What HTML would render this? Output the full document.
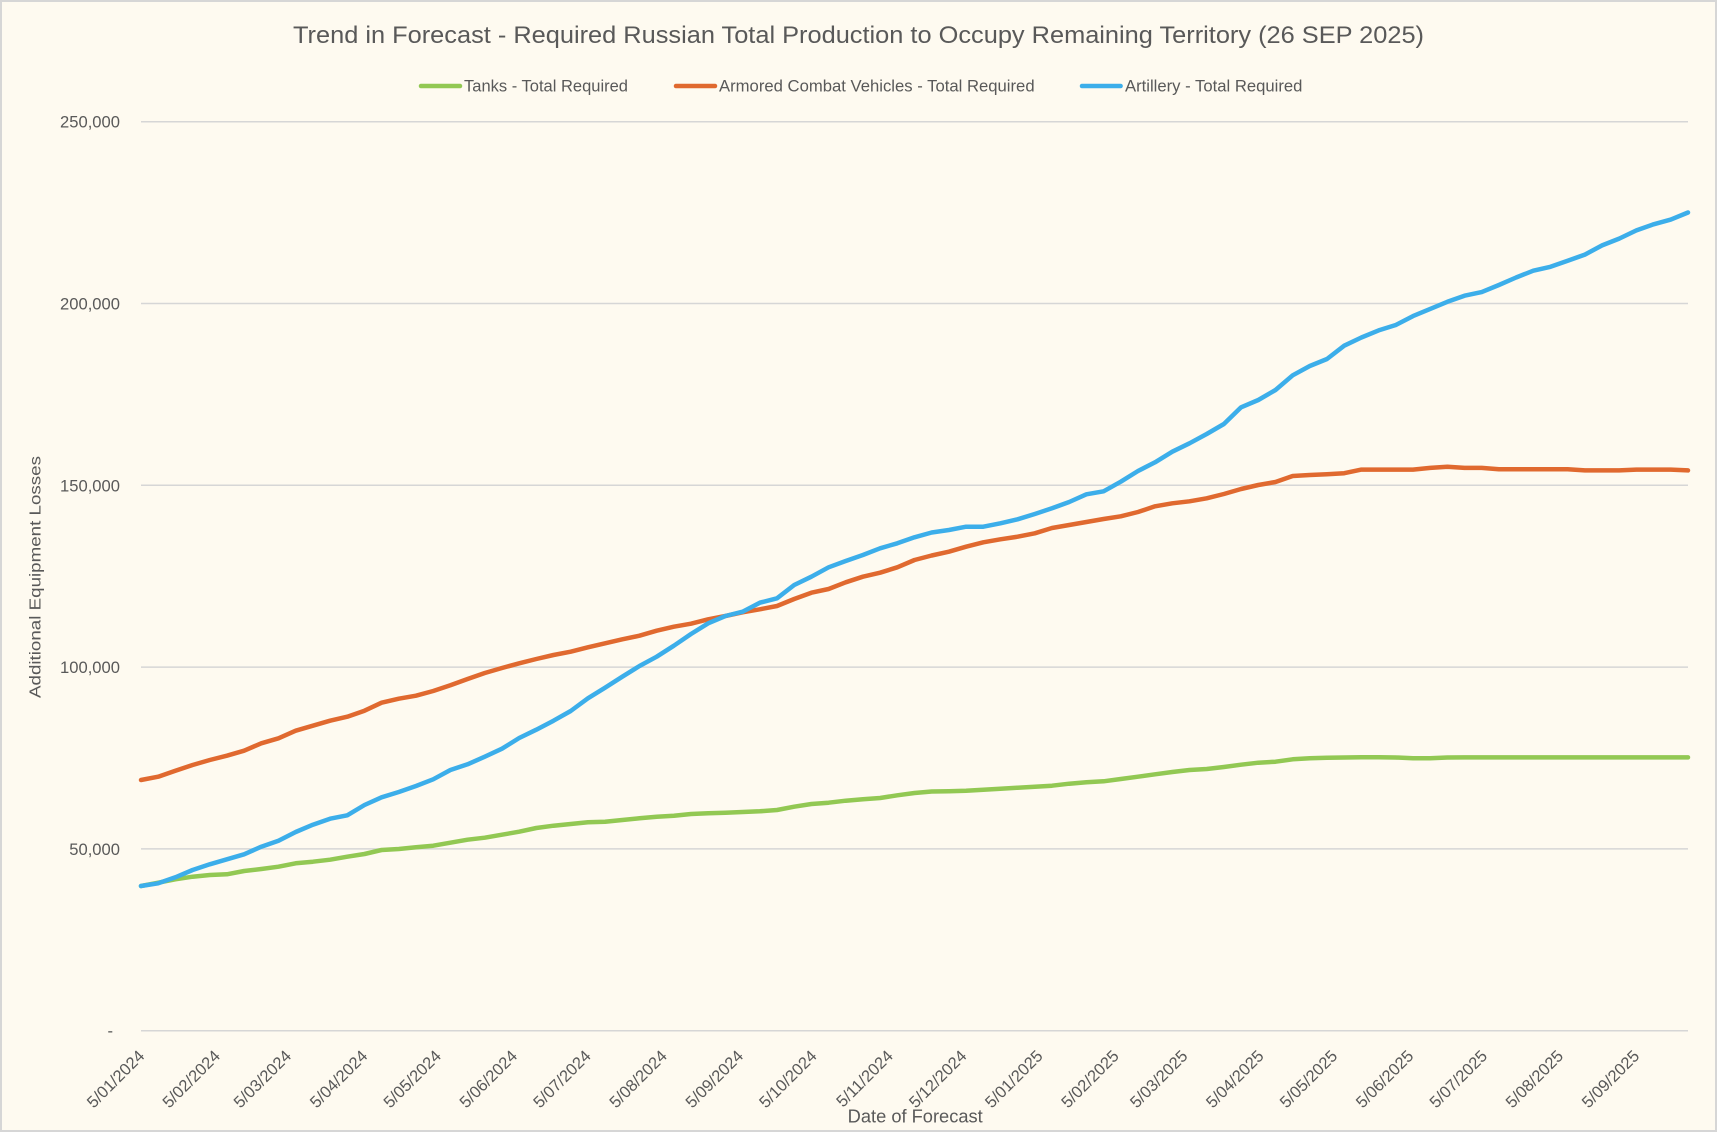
<!DOCTYPE html>
<html>
<head>
<meta charset="utf-8">
<style>
html,body{margin:0;padding:0;background:#fefaf0;}
svg{display:block;}
text{font-family:"Liberation Sans",Arial,sans-serif;fill:#595959;}
</style>
</head>
<body>
<svg width="1717" height="1132" viewBox="0 0 1717 1132" xmlns="http://www.w3.org/2000/svg">
<rect x="1" y="1" width="1715" height="1130" fill="#fefaf0" stroke="#d6d6d6" stroke-width="2"/>

<!-- Title -->
<text x="293" y="43" font-size="24" textLength="1131" lengthAdjust="spacingAndGlyphs">Trend in Forecast - Required Russian Total Production to Occupy Remaining Territory (26 SEP 2025)</text>

<!-- Legend -->
<line x1="421" y1="86" x2="460" y2="86" stroke="#92c853" stroke-width="4.5" stroke-linecap="round"/>
<text x="464" y="91.5" font-size="17" textLength="164" lengthAdjust="spacingAndGlyphs">Tanks - Total Required</text>
<line x1="676" y1="86" x2="715" y2="86" stroke="#e0692f" stroke-width="4.5" stroke-linecap="round"/>
<text x="719" y="91.5" font-size="17" textLength="315.6" lengthAdjust="spacingAndGlyphs">Armored Combat Vehicles - Total Required</text>
<line x1="1082" y1="86" x2="1120.6" y2="86" stroke="#3caeea" stroke-width="4.5" stroke-linecap="round"/>
<text x="1125" y="91.5" font-size="17" textLength="177.4" lengthAdjust="spacingAndGlyphs">Artillery - Total Required</text>

<!-- Gridlines -->
<g stroke="#d6d6d6" stroke-width="1.5">
<line x1="141" y1="121.7" x2="1688" y2="121.7"/>
<line x1="141" y1="303.5" x2="1688" y2="303.5"/>
<line x1="141" y1="485.3" x2="1688" y2="485.3"/>
<line x1="141" y1="667.1" x2="1688" y2="667.1"/>
<line x1="141" y1="848.9" x2="1688" y2="848.9"/>
<line x1="141" y1="1030.7" x2="1688" y2="1030.7"/>
</g>

<!-- Y tick labels -->
<g font-size="16.6" text-anchor="end">
<text x="120" y="127.7">250,000</text>
<text x="120" y="309.5">200,000</text>
<text x="120" y="491.3">150,000</text>
<text x="120" y="673.1">100,000</text>
<text x="120" y="854.9">50,000</text>
<text x="113" y="1036.5">-</text>
</g>

<!-- Y axis title -->
<text transform="translate(40.5,577) rotate(-90)" font-size="16" text-anchor="middle" textLength="242" lengthAdjust="spacingAndGlyphs">Additional Equipment Losses</text>

<!-- X tick labels -->
<g font-size="16.5" text-anchor="end">
<text transform="translate(145.5,1057) rotate(-45)">5/01/2024</text>
<text transform="translate(221.1,1057) rotate(-45)">5/02/2024</text>
<text transform="translate(292.3,1057) rotate(-45)">5/03/2024</text>
<text transform="translate(368.5,1057) rotate(-45)">5/04/2024</text>
<text transform="translate(442.1,1057) rotate(-45)">5/05/2024</text>
<text transform="translate(518.2,1057) rotate(-45)">5/06/2024</text>
<text transform="translate(591.9,1057) rotate(-45)">5/07/2024</text>
<text transform="translate(668,1057) rotate(-45)">5/08/2024</text>
<text transform="translate(744.2,1057) rotate(-45)">5/09/2024</text>
<text transform="translate(817.8,1057) rotate(-45)">5/10/2024</text>
<text transform="translate(894,1057) rotate(-45)">5/11/2024</text>
<text transform="translate(967.6,1057) rotate(-45)">5/12/2024</text>
<text transform="translate(1043.7,1057) rotate(-45)">5/01/2025</text>
<text transform="translate(1119.9,1057) rotate(-45)">5/02/2025</text>
<text transform="translate(1188.6,1057) rotate(-45)">5/03/2025</text>
<text transform="translate(1264.7,1057) rotate(-45)">5/04/2025</text>
<text transform="translate(1338.4,1057) rotate(-45)">5/05/2025</text>
<text transform="translate(1414.5,1057) rotate(-45)">5/06/2025</text>
<text transform="translate(1488.2,1057) rotate(-45)">5/07/2025</text>
<text transform="translate(1564.3,1057) rotate(-45)">5/08/2025</text>
<text transform="translate(1640.4,1057) rotate(-45)">5/09/2025</text>
</g>

<!-- X axis title -->
<text x="847.7" y="1122.3" font-size="18" textLength="135" lengthAdjust="spacingAndGlyphs">Date of Forecast</text>

<!-- Series -->
<g fill="none" stroke-width="4.5" stroke-linejoin="round" stroke-linecap="round">
<polyline stroke="#92c853" points="141,886 158.2,882.7 175.4,879.3 192.6,876.7 209.8,875 226.9,874.3 244.1,871 261.3,869 278.5,866.7 295.7,863.3 312.9,861.7 330.1,859.7 347.3,856.7 364.5,854 381.6,850 398.8,849 416,847.3 433.2,845.7 450.4,842.7 467.6,839.7 484.8,837.7 502,834.7 519.2,831.7 536.3,828 553.5,825.7 570.7,824 587.9,822.3 605.1,821.7 622.3,820 639.5,818.3 656.7,816.7 673.9,815.7 691,814 708.2,813.3 725.4,812.7 742.6,812 759.8,811.3 777,810 794.2,806.7 811.4,804 828.6,802.7 845.7,800.7 862.9,799.3 880.1,798 897.3,795.3 914.5,793 931.7,791.5 948.9,791.2 966.1,790.7 983.3,789.7 1000.4,788.7 1017.6,787.7 1034.8,786.7 1052,785.7 1069.2,783.7 1086.4,782.3 1103.6,781.3 1120.8,779 1138,776.7 1155.1,774.3 1172.3,772 1189.5,770 1206.7,769 1223.9,767 1241.1,764.7 1258.3,762.7 1275.5,761.7 1292.7,759.3 1309.8,758.3 1327,757.7 1344.2,757.5 1361.4,757.3 1378.6,757.2 1395.8,757.5 1413,758.3 1430.2,758.3 1447.4,757.5 1464.5,757.4 1481.7,757.4 1498.9,757.4 1516.1,757.4 1533.3,757.4 1550.5,757.4 1567.7,757.4 1584.9,757.4 1602.1,757.4 1619.2,757.4 1636.4,757.4 1653.6,757.4 1670.8,757.4 1688,757.4"/>
<polyline stroke="#e0692f" points="141,780 158.2,776.7 175.4,770.7 192.6,765 209.8,760 226.9,755.7 244.1,750.7 261.3,743.3 278.5,738.3 295.7,730.7 312.9,725.7 330.1,720.7 347.3,716.7 364.5,710.7 381.6,702.7 398.8,698.7 416,695.7 433.2,691 450.4,685.3 467.6,679 484.8,673 502,668 519.2,663.3 536.3,659 553.5,655 570.7,651.7 587.9,647.3 605.1,643.3 622.3,639.3 639.5,635.7 656.7,630.7 673.9,626.7 691,623.7 708.2,619.3 725.4,616 742.6,612.3 759.8,609.3 777,606 794.2,599 811.4,592.7 828.6,589 845.7,582.3 862.9,576.7 880.1,572.7 897.3,567.3 914.5,560 931.7,555.5 948.9,551.7 966.1,546.7 983.3,542.3 1000.4,539.3 1017.6,536.7 1034.8,533.3 1052,528 1069.2,525 1086.4,522 1103.6,519 1120.8,516.3 1138,512 1155.1,506.3 1172.3,503.3 1189.5,501.3 1206.7,498.3 1223.9,494 1241.1,489 1258.3,485 1275.5,482 1292.7,476 1309.8,475 1327,474.2 1344.2,473.2 1361.4,469.6 1378.6,469.6 1395.8,469.6 1413,469.6 1430.2,467.9 1447.4,466.8 1464.5,467.9 1481.7,467.9 1498.9,469.3 1516.1,469.3 1533.3,469.3 1550.5,469.3 1567.7,469.3 1584.9,470.4 1602.1,470.4 1619.2,470.4 1636.4,469.6 1653.6,469.6 1670.8,469.6 1688,470.4"/>
<polyline stroke="#3caeea" points="141,886 158.2,883.3 175.4,877.3 192.6,870 209.8,864.3 226.9,859.3 244.1,854.3 261.3,846.7 278.5,840.7 295.7,832 312.9,824.7 330.1,818.7 347.3,815.3 364.5,805 381.6,797.3 398.8,792 416,786 433.2,779.3 450.4,770 467.6,764.3 484.8,756.7 502,748.7 519.2,738 536.3,729.7 553.5,720.7 570.7,711 587.9,698.3 605.1,687.7 622.3,676.7 639.5,666 656.7,656.7 673.9,645.7 691,634 708.2,623.3 725.4,616 742.6,611.7 759.8,602.7 777,598.3 794.2,585 811.4,576.7 828.6,567.3 845.7,561 862.9,555 880.1,548.3 897.3,543.3 914.5,537.3 931.7,532.5 948.9,530 966.1,526.7 983.3,526.7 1000.4,523.3 1017.6,519.3 1034.8,514 1052,508.3 1069.2,502 1086.4,494.3 1103.6,491.3 1120.8,481.7 1138,471 1155.1,462.3 1172.3,451.7 1189.5,443.3 1206.7,434 1223.9,424 1241.1,407.3 1258.3,400 1275.5,390 1292.7,375.3 1309.8,366 1327,359 1344.2,345.7 1361.4,337.5 1378.6,330.4 1395.8,325 1413,316.1 1430.2,308.9 1447.4,301.8 1464.5,295.7 1481.7,292.1 1498.9,285 1516.1,277.5 1533.3,270.7 1550.5,266.8 1567.7,260.7 1584.9,254.6 1602.1,245.4 1619.2,238.6 1636.4,230.4 1653.6,224.3 1670.8,219.6 1688,212.5"/>
</g>
</svg>
</body>
</html>
